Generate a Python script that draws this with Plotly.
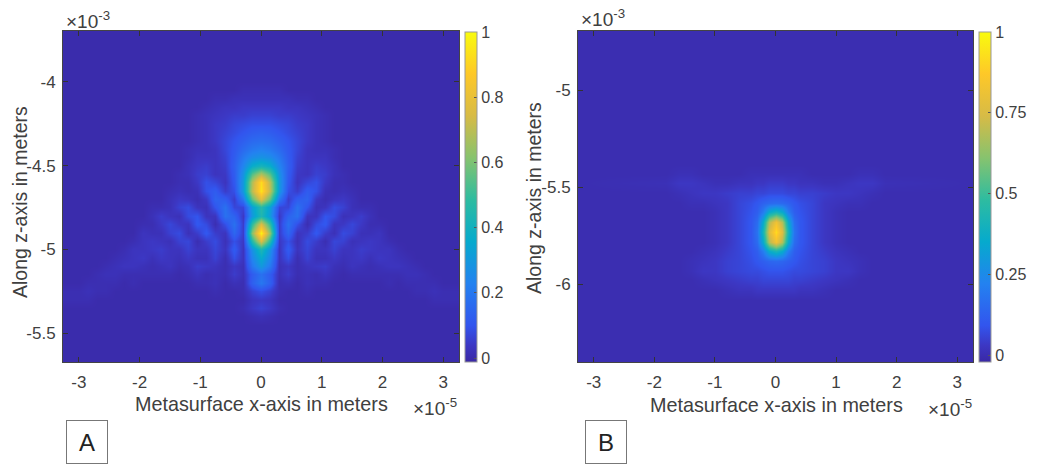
import plotly.graph_objects as go

W, H = 1037, 464

# Panel A: intensity in percent, half-rows (x >= 0, mirrored); top row first
a_x_half = [i * 0.15e-5 for i in range(23)]
a_z = [-3.65e-3, -4.00e-3, -4.05e-3, -4.10e-3, -4.15e-3, -4.20e-3, -4.25e-3, -4.30e-3, -4.35e-3, -4.40e-3,
       -4.45e-3, -4.50e-3, -4.55e-3, -4.60e-3, -4.65e-3, -4.70e-3, -4.75e-3, -4.80e-3, -4.85e-3,
       -4.90e-3, -4.95e-3, -5.00e-3, -5.05e-3, -5.10e-3, -5.15e-3, -5.20e-3, -5.25e-3, -5.30e-3,
       -5.35e-3, -5.40e-3, -5.45e-3, -5.70e-3]
a_rows = [
    [0], [0],
    [1, 1, 1],
    [2, 2, 2, 2, 1, 1],
    [4, 4, 4, 3, 3, 2, 1],
    [6, 6, 5, 5, 4, 3, 2, 1],
    [9, 9, 8, 7, 5, 4, 2, 1],
    [13, 12, 10, 8, 6, 4, 2, 1],
    [17, 16, 13, 10, 7, 4, 2, 1],
    [22, 20, 16, 11, 7, 3, 2, 2, 1],
    [28, 26, 20, 12, 6, 3, 3, 3, 1],
    [42, 37, 24, 13, 5, 3, 5, 4, 2],
    [68, 54, 28, 12, 4, 3, 6, 5, 2, 1],
    [92, 68, 30, 11, 3, 7, 9, 4, 1, 1],
    [94, 70, 30, 9, 5, 12, 9, 2, 1, 2, 1],
    [78, 56, 20, 5, 12, 14, 4, 1, 3, 4, 2],
    [46, 32, 7, 7, 18, 10, 2, 3, 8, 6, 2, 1, 1],
    [44, 30, 4, 14, 18, 3, 3, 10, 8, 2, 3, 5, 2],
    [76, 48, 5, 18, 9, 1, 8, 11, 3, 4, 7, 4, 1, 1],
    [98, 62, 5, 15, 3, 5, 11, 5, 2, 8, 6, 2, 2, 3],
    [76, 46, 4, 9, 2, 8, 5, 1, 7, 6, 2, 3, 4, 3, 1],
    [44, 28, 3, 12, 3, 7, 3, 3, 6, 3, 3, 5, 4, 3, 3, 1],
    [36, 24, 3, 9, 1, 6, 2, 2, 4, 2, 3, 4, 2, 4, 3, 2, 1],
    [30, 20, 2, 4, 1, 3, 4, 5, 2, 1, 3, 2, 1, 2, 3, 3, 2, 1],
    [18, 12, 2, 5, 1, 2, 1, 3, 1, 0, 1, 1, 1, 1, 1, 1, 2, 2, 1],
    [20, 13, 1, 2, 0, 2, 1, 1, 0, 0, 0, 0, 0, 0, 1, 0, 1, 1, 1, 1],
    [9, 6, 1, 0, 0, 1, 0, 0, 0, 0, 0, 0, 0, 0, 0, 0, 0, 1, 1, 2, 1, 1, 1],
    [4, 3, 0, 0, 0, 0, 0, 0, 0, 0, 0, 0, 0, 0, 0, 0, 0, 0, 0, 1, 1, 1, 1],
    [6, 4, 1],
    [2, 1],
    [0], [0],
]

# Panel B: same layout, uneven x spacing around the tight focus
b_x_half = [0, 0.1e-5, 0.2e-5, 0.3e-5, 0.4e-5, 0.6e-5, 0.8e-5, 1.0e-5, 1.2e-5, 1.4e-5, 1.6e-5, 1.8e-5, 3.4e-5]
b_z = [-4.65e-3, -5.38e-3, -5.43e-3, -5.48e-3, -5.53e-3, -5.58e-3, -5.63e-3, -5.68e-3, -5.73e-3,
       -5.78e-3, -5.83e-3, -5.88e-3, -5.93e-3, -5.98e-3, -6.03e-3, -6.08e-3, -6.45e-3]
b_rows = [
    [0], [0],
    [1, 1, 1, 1, 1, 0, 0, 0, 0, 1, 1, 0],
    [4, 4, 3, 3, 2, 2, 1, 1, 2, 3, 3, 1],
    [7, 7, 6, 6, 5, 5, 4, 3, 3, 2, 1, 0],
    [16, 15, 13, 10, 8, 6, 3, 2, 1, 1, 0, 0],
    [42, 36, 21, 12, 9, 6, 3, 1, 0, 0, 0, 0],
    [82, 68, 36, 16, 10, 6, 3, 1, 0, 0, 0, 0],
    [92, 76, 42, 18, 10, 6, 3, 1, 0, 0, 0, 0],
    [82, 68, 36, 16, 10, 6, 3, 1, 0, 0, 0, 0],
    [42, 36, 21, 12, 9, 6, 4, 2, 1, 0, 0, 0],
    [15, 14, 12, 10, 8, 6, 5, 3, 2, 1, 0, 0],
    [9, 9, 8, 7, 7, 6, 5, 3, 3, 1, 0, 0],
    [6, 6, 6, 5, 5, 4, 3, 2, 1, 0, 0, 0],
    [3, 3, 3, 3, 2, 2, 1, 0, 0, 0, 0, 0],
    [0], [0],
]

x_ticks = [-3e-5, -2e-5, -1e-5, 0, 1e-5, 2e-5, 3e-5]
x_labels = ["-3", "-2", "-1", "0", "1", "2", "3"]
a_y_ticks = [-4e-3, -4.5e-3, -5e-3, -5.5e-3]
a_y_labels = ["-4", "-4.5", "-5", "-5.5"]
b_y_ticks = [-5e-3, -5.5e-3, -6e-3]
b_y_labels = ["-5", "-5.5", "-6"]
a_cb_ticks = [0, 0.2, 0.4, 0.6, 0.8, 1]
a_cb_labels = ["0", "0.2", "0.4", "0.6", "0.8", "1"]
b_cb_ticks = [0, 0.25, 0.5, 0.75, 1]
b_cb_labels = ["0", "0.25", "0.5", "0.75", "1"]

parula = [[0, "rgb(58,40,165)"], [0.05, "rgb(60,55,195)"], [0.111, "rgb(50,85,238)"], [0.238, "rgb(35,130,240)"],
          [0.365, "rgb(6,170,205)"], [0.492, "rgb(46,188,160)"], [0.619, "rgb(135,195,110)"],
          [0.746, "rgb(215,187,70)"], [0.873, "rgb(254,200,40)"], [1, "rgb(249,251,14)"]]

TEXT = "#404040"
FONT = "Liberation Sans"


def mirror(xs, rows):
    full_x = [-v for v in xs[:0:-1]] + list(xs)
    n = len(xs)
    z = []
    for r in rows:
        p = [v / 100 for v in r] + [0] * (n - len(r))
        z.append(p[:0:-1] + p)
    return full_x, z


def px_x(v):
    return v / W


def px_y(v):
    return 1 - v / H


fig = go.Figure()
ax, az_grid = mirror(a_x_half, a_rows)
bx, bz_grid = mirror(b_x_half, b_rows)


def colorbar(x, vals, text):
    return dict(x=px_x(x), xanchor="left", y=px_y(362), yanchor="bottom",
                lenmode="pixels", len=330, thicknessmode="pixels", thickness=12,
                xpad=0, ypad=0, outlinecolor="#999999", outlinewidth=1,
                ticks="inside", ticklen=3, tickcolor="#555555",
                tickvals=vals, ticktext=text,
                tickfont=dict(family=FONT, size=16, color=TEXT))


fig.add_trace(go.Heatmap(
    x=ax, y=a_z[::-1], z=az_grid[::-1], zmin=-0.012, zmax=1, zsmooth="best",
    colorscale=parula, xaxis="x", yaxis="y", colorbar=colorbar(465, a_cb_ticks, a_cb_labels)))
fig.add_trace(go.Heatmap(
    x=bx, y=b_z[::-1], z=bz_grid[::-1], zmin=-0.02, zmax=1, zsmooth="best",
    colorscale=parula, xaxis="x2", yaxis="y2", colorbar=colorbar(979, b_cb_ticks, b_cb_labels)))

axis_style = dict(showgrid=False, zeroline=False, showline=True, mirror="ticks", linecolor="#444444",
                  linewidth=1, ticks="inside", ticklen=5, tickcolor="#333333", tickwidth=1,
                  tickfont=dict(family=FONT, size=17, color=TEXT))


def annotation(x, y, text, size, **kw):
    return dict(xref="paper", yref="paper", x=px_x(x), y=px_y(y), text=text, showarrow=False,
                xanchor="center", yanchor="middle",
                font=dict(family=FONT, size=size, color=kw.pop("color", TEXT)), **kw)


fig.update_layout(
    width=W, height=H, margin=dict(l=0, r=0, t=0, b=0), paper_bgcolor="white", plot_bgcolor="white",
    showlegend=False,
    xaxis=dict(domain=[px_x(63), px_x(459)], range=[-3.26e-5, 3.26e-5], anchor="y",
               tickvals=x_ticks, ticktext=x_labels, ticklabelstandoff=5, **axis_style),
    yaxis=dict(domain=[px_y(362), px_y(31)], range=[-5.673e-3, -3.696e-3], anchor="x",
               tickvals=a_y_ticks, ticktext=a_y_labels, ticklabelstandoff=3, **axis_style),
    xaxis2=dict(domain=[px_x(578), px_x(973)], range=[-3.26e-5, 3.26e-5], anchor="y2",
                tickvals=x_ticks, ticktext=x_labels, ticklabelstandoff=5, **axis_style),
    yaxis2=dict(domain=[px_y(362), px_y(31)], range=[-6.4e-3, -4.696e-3], anchor="x2",
                tickvals=b_y_ticks, ticktext=b_y_labels, ticklabelstandoff=3, **axis_style),
    annotations=[
        annotation(261, 404, "Metasurface x-axis in meters", 19.8),
        annotation(776, 405, "Metasurface x-axis in meters", 19.8),
        annotation(20, 202, "Along z-axis in meters", 19.5, textangle=-90),
        annotation(534, 198, "Along z-axis in meters", 19.5, textangle=-90),
        annotation(88, 20, "×10<sup>-3</sup>", 19),
        annotation(603, 18, "×10<sup>-3</sup>", 19),
        annotation(435, 407, "×10<sup>-5</sup>", 19),
        annotation(950, 408, "×10<sup>-5</sup>", 19),
        annotation(87, 442, "A", 24, color="#222222", width=40, height=42, bordercolor="#777777",
                   borderwidth=1, borderpad=0, bgcolor="white"),
        annotation(606, 442, "B", 24, color="#222222", width=40, height=42, bordercolor="#777777",
                   borderwidth=1, borderpad=0, bgcolor="white"),
    ],
)

fig.write_html("out.html", config=dict(displayModeBar=False),
               post_script="document.body.style.margin='0';document.body.style.overflow='hidden';")
